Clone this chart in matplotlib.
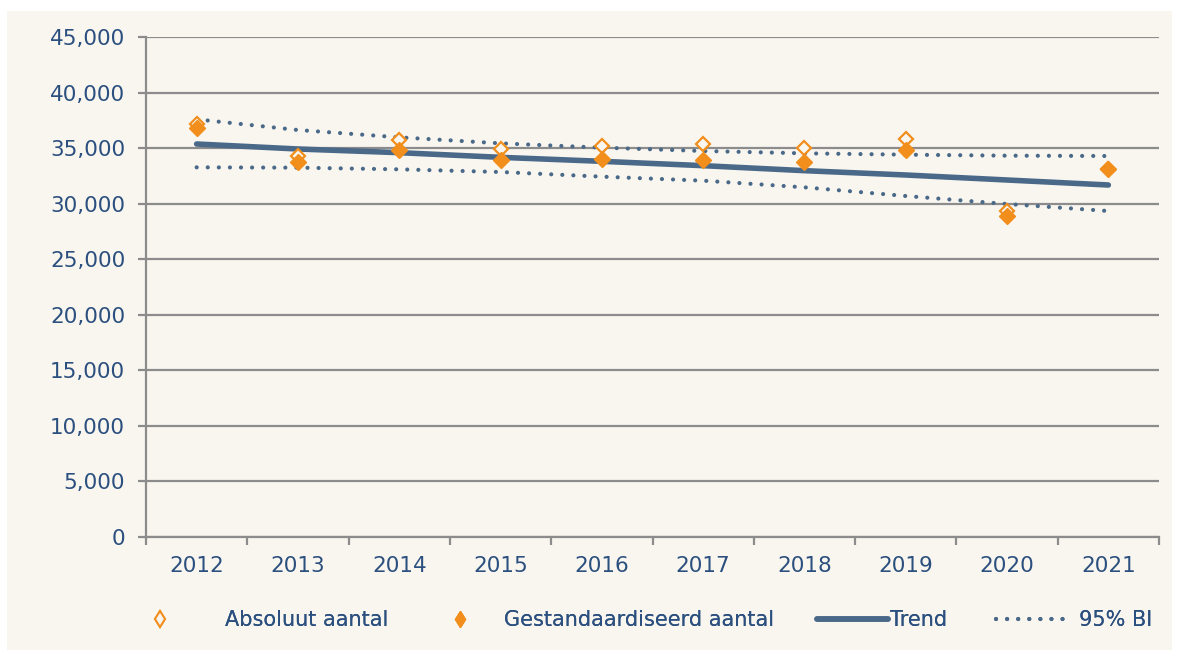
import numpy as np
import matplotlib
matplotlib.use('Agg')
import matplotlib.pyplot as plt
from matplotlib.lines import Line2D
from matplotlib.patches import Rectangle
from matplotlib.ticker import FuncFormatter, FixedLocator

BG_COLOR = '#f9f6f0'
TEXT_COLOR = '#2b4f7e'
ORANGE = '#f28e1c'
LINE_BLUE = '#4a6988'
GRID_COLOR = '#8c8c8c'

years = ['2012', '2013', '2014', '2015', '2016', '2017', '2018', '2019', '2020', '2021']
absoluut = [37170, 34290, 35730, 34920, 35190, 35340, 34980, 35790, 29340, 33090]
gestandaardiseerd = [36780, 33720, 34800, 33930, 33990, 33930, 33750, 34830, 28920, 33090]
trend = [35370, 34920, 34590, 34170, 33810, 33420, 32970, 32580, 32130, 31680]
bi_upper = [37590, 36630, 35970, 35430, 35040, 34740, 34530, 34410, 34320, 34290]
bi_lower = [33270, 33240, 33090, 32850, 32430, 32070, 31470, 30690, 29970, 29340]

plt.rcParams['font.family'] = ['DejaVu Sans']

fig = plt.figure(figsize=(11.81, 6.57), dpi=100, facecolor='white')
fig.patches.append(Rectangle((7 / 1181, 7 / 657), 1165 / 1181, 639 / 657,
                             transform=fig.transFigure, facecolor=BG_COLOR,
                             edgecolor='none', zorder=-10))

ax = fig.add_axes([146 / 1181, 120 / 657, 1013 / 1181, 500 / 657])
ax.set_facecolor(BG_COLOR)

x = np.arange(len(years))
dots = (0, (0.01, 2.65))

ax.plot(x, bi_upper, color=LINE_BLUE, lw=3.0, linestyle=dots,
        dash_capstyle='round', zorder=3)
ax.plot(x, bi_lower, color=LINE_BLUE, lw=3.0, linestyle=dots,
        dash_capstyle='round', zorder=3)
ax.plot(x, trend, color=LINE_BLUE, lw=4.0, solid_capstyle='round', zorder=4)
ax.plot(x, absoluut, linestyle='none', marker='D', markersize=7,
        markerfacecolor=BG_COLOR, markeredgecolor=ORANGE, markeredgewidth=1.6,
        zorder=5)
ax.plot(x, gestandaardiseerd, linestyle='none', marker='D', markersize=8,
        color=ORANGE, markeredgecolor=ORANGE, zorder=6)

ax.set_xlim(-0.5, len(years) - 0.5)
ax.set_ylim(0, 45000)
ax.set_yticks(np.arange(0, 45001, 5000))
ax.yaxis.set_major_formatter(FuncFormatter(lambda v, p: f'{int(v):,}'))
ax.grid(axis='y', color=GRID_COLOR, lw=1.6, zorder=1)
ax.set_axisbelow(True)

ax.xaxis.set_major_locator(FixedLocator(np.arange(-0.5, len(years), 1.0)))
ax.xaxis.set_major_formatter(FuncFormatter(lambda v, p: ''))
ax.xaxis.set_minor_locator(FixedLocator(x))
ax.set_xticklabels(years, minor=True)
ax.tick_params(axis='x', which='minor', length=0, pad=14,
               labelsize=15.5, labelcolor=TEXT_COLOR)
ax.tick_params(axis='x', which='major', length=6, width=1.6, color=GRID_COLOR)
ax.tick_params(axis='y', length=6, width=1.6, color=GRID_COLOR,
               labelsize=15.5, labelcolor=TEXT_COLOR, pad=9)

for side in ['top', 'right']:
    ax.spines[side].set_visible(False)
for side in ['left', 'bottom']:
    ax.spines[side].set_color(GRID_COLOR)
    ax.spines[side].set_linewidth(1.6)

# legend entries, one small legend per entry so each sits where Excel put it
entries = [
    (Line2D([], [], linestyle='none', marker='d', markersize=8,
            markerfacecolor=BG_COLOR, markeredgecolor=ORANGE, markeredgewidth=1.4),
     'Absoluut aantal', 150, 1.0, 2.6),
    (Line2D([], [], linestyle='none', marker='d', markersize=8, color=ORANGE),
     'Gestandaardiseerd aantal', 450, 1.0, 1.6),
    (Line2D([], [], color=LINE_BLUE, lw=4.0, solid_capstyle='round'),
     'Trend', 817, 3.4, 0.1),
    (Line2D([], [], color=LINE_BLUE, lw=3.0, linestyle=dots, dash_capstyle='round'),
     '95% BI', 996, 3.4, 0.6),
]
for handle, label, xpos, hlen, hpad in entries:
    leg = fig.legend([handle], [label], loc='center left',
                     bbox_to_anchor=(xpos / 1181, 1 - 620 / 657),
                     frameon=False, fontsize=15, handlelength=hlen,
                     handletextpad=hpad, borderpad=0, borderaxespad=0,
                     labelcolor=TEXT_COLOR)
    fig.add_artist(leg)

fig.savefig('out.png', dpi=100, facecolor=fig.get_facecolor())
